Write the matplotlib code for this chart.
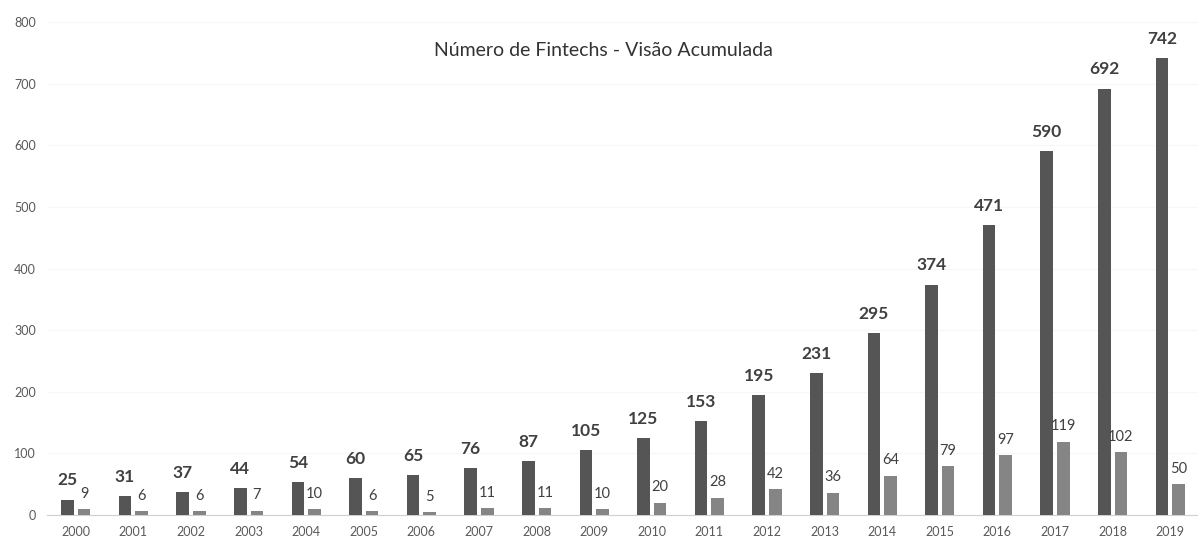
import matplotlib

matplotlib.use("Agg")
import matplotlib.pyplot as plt
import numpy as np

plt.rcParams["font.family"] = ["Lato", "DejaVu Sans"]

# data
years = [str(y) for y in range(2000, 2020)]
acumulado = [25, 31, 37, 44, 54, 60, 65, 76, 87, 105, 125, 153, 195, 231, 295, 374, 471, 590, 692, 742]
novas = [9, 6, 6, 7, 10, 6, 5, 11, 11, 10, 20, 28, 42, 36, 64, 79, 97, 119, 102, 50]

DARK = "#555555"
LIGHT = "#858585"
TEXT = "#404040"

fig = plt.figure(figsize=(11.98, 5.47), dpi=100)
ax = fig.add_axes([47 / 1198, 32 / 547, 1152 / 1198, 493 / 547])

x = np.arange(len(years))
w = 0.22
off = 0.145

ax.bar(x - off, acumulado, width=w, color=DARK, zorder=3)
ax.bar(x + off, novas, width=w, color=LIGHT, zorder=3)

for xi, v in zip(x, acumulado):
    ax.annotate(str(v), (xi - off, v), xytext=(0, 8), textcoords="offset points",
                ha="center", va="bottom", fontsize=12.5, fontweight="bold", color=TEXT)
for xi, v in zip(x, novas):
    ax.annotate(str(v), (xi + off, v), xytext=(0, 6), textcoords="offset points",
                ha="center", va="bottom", fontsize=10.5, color=TEXT)

ax.set_xlim(-0.5, len(years) - 0.5)
ax.set_ylim(0, 800)
ax.set_yticks(range(0, 801, 100))
ax.set_xticks(x)
ax.set_xticklabels(years)
ax.tick_params(axis="both", length=0, labelsize=9, colors="#595959")
ax.tick_params(axis="y", pad=8)
ax.tick_params(axis="x", pad=8)

ax.grid(axis="y", color="#f7f7f7", linewidth=0.8, zorder=0)
for side in ["top", "right", "left"]:
    ax.spines[side].set_visible(False)
ax.spines["bottom"].set_color("#d0d0d0")

fig.text(603 / 1198, 1 - 50 / 547, "Número de Fintechs - Visão Acumulada",
         ha="center", va="center", fontsize=14, color="#333333")

fig.savefig("out.png", dpi=100)
